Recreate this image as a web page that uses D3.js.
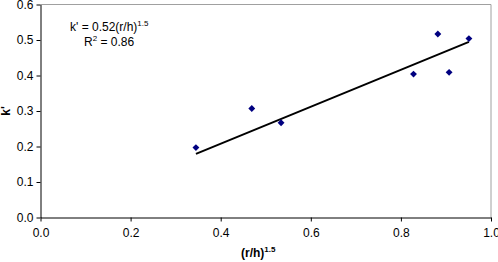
<!DOCTYPE html>
<html>
<head>
<meta charset="utf-8">
<script src="https://cdn.jsdelivr.net/npm/d3@7"></script>
<style>
  body { margin: 0; background: #fff; }
  text { font-family: "Liberation Sans", Arial, sans-serif; }
</style>
</head>
<body>
<div id="chart"></div>
<script>
// data
const xValues = [0.345, 0.469, 0.534, 0.828, 0.882, 0.907, 0.951];
const yValues = [0.197, 0.307, 0.267, 0.404, 0.517, 0.409, 0.504];
const slope = 0.52;
const xTicks = [0, 0.2, 0.4, 0.6, 0.8, 1.0];
const yTicks = [0, 0.1, 0.2, 0.3, 0.4, 0.5, 0.6];

const margin = {top: 4.5, right: 7, bottom: 44.5, left: 40.5};
const width = 498 - margin.left - margin.right;
const height = 262 - margin.top - margin.bottom;

const svg = d3.select("#chart")
  .append("svg")
    .attr("width", 498)
    .attr("height", 262)
  .append("g")
    .attr("transform", `translate(${margin.left}, ${margin.top})`);

const xScale = d3.scaleLinear().domain([0, 1]).range([0, width]);
const yScale = d3.scaleLinear().domain([0, 0.6]).range([height, 0]);

// plot area border (top & right grey)
svg.append("path")
  .attr("d", `M0,0H${width}V${height}`)
  .attr("fill", "none")
  .attr("stroke", "#a0a0a0")
  .attr("stroke-width", 1);

// x axis
svg.append("g")
  .attr("transform", `translate(0, ${height})`)
  .call(d3.axisBottom(xScale).tickValues(xTicks).tickFormat(d3.format(".1f")).tickSizeInner(4).tickSizeOuter(0).tickPadding(7))
  .call(g => g.selectAll("text").style("font-size", "12px").attr("fill", "#000"))
  .call(g => g.selectAll("line, path").attr("stroke", "#000"));

// y axis
svg.append("g")
  .call(d3.axisLeft(yScale).tickValues(yTicks).tickFormat(d3.format(".1f")).tickSizeInner(4).tickSizeOuter(0).tickPadding(3))
  .call(g => g.selectAll("text").style("font-size", "12px").attr("fill", "#000"))
  .call(g => g.selectAll("line, path").attr("stroke", "#000"));

// trend line
const xMin = d3.min(xValues), xMax = d3.max(xValues);
svg.append("line")
  .attr("x1", xScale(xMin)).attr("y1", yScale(slope * xMin))
  .attr("x2", xScale(xMax)).attr("y2", yScale(slope * xMax))
  .attr("stroke", "#000")
  .attr("stroke-width", 2);

// points
svg.selectAll(".pt")
  .data(xValues.map((x, i) => ({x: x, y: yValues[i]})))
  .join("path")
    .attr("class", "pt")
    .attr("d", d3.symbol(d3.symbolDiamond2, 30))
    .attr("transform", d => `translate(${xScale(d.x)}, ${yScale(d.y)})`)
    .attr("fill", "#000080");

// equation text
const eq = svg.append("text")
  .attr("x", 29.5)
  .attr("y", 26.5)
  .style("font-size", "12px");
eq.append("tspan").text("k' = 0.52(r/h)");
eq.append("tspan").attr("dy", -5).style("font-size", "8px").text("1.5");

const r2 = svg.append("text")
  .attr("x", 43.5)
  .attr("y", 41.5)
  .style("font-size", "12px");
r2.append("tspan").text("R");
r2.append("tspan").attr("dy", -5).style("font-size", "8px").text("2");
r2.append("tspan").attr("dy", 5).text(" = 0.86");

// axis titles
const xt = svg.append("text")
  .attr("x", 200.5)
  .attr("y", 252)
  .attr("font-weight", "bold")
  .style("font-size", "12px");
xt.append("tspan").text("(r/h)");
xt.append("tspan").attr("dy", -5).style("font-size", "8px").text("1.5");

svg.append("text")
  .attr("transform", `translate(${-31}, ${yScale(0.3)}) rotate(-90)`)
  .attr("text-anchor", "middle")
  .attr("font-weight", "bold")
  .style("font-size", "12px")
  .text("k'");
</script>
</body>
</html>
